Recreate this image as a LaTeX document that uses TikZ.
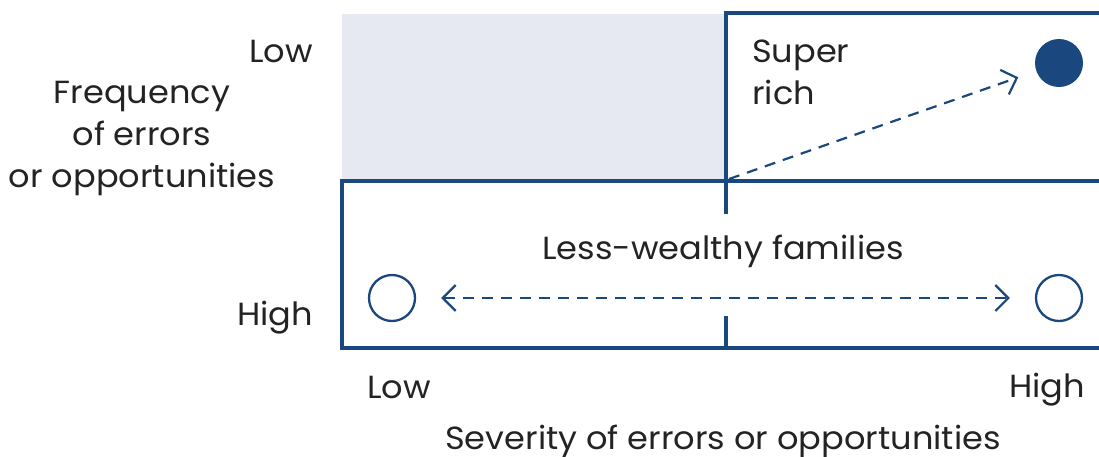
\documentclass[tikz,border=0pt]{standalone}
\usepackage{fontspec}
\setmainfont{Poppins}[FakeStretch=1.05]
\usetikzlibrary{arrows.meta}
\definecolor{navy}{RGB}{26,72,126}
\definecolor{paleblue}{RGB}{230,233,242}
\definecolor{ink}{RGB}{35,35,35}
\tikzset{barbtip/.tip={Straight Barb[length=13pt,width=26pt,line width=2.2pt]}}
\begin{document}
\begin{tikzpicture}[x=1pt,y=-1pt,
  lbl/.style={text=ink,font=\fontsize{32}{42}\selectfont,inner sep=0pt},
  frame/.style={draw=navy,line width=4.5pt},
  ring/.style={circle,draw=navy,line width=2.3pt,minimum size=46pt,inner sep=0pt},
  fulldot/.style={circle,fill=navy,minimum size=48pt,inner sep=0pt},
  darr/.style={draw=navy,line width=2.2pt,dash pattern=on 11pt off 8pt}]
\useasboundingbox (0,0) rectangle (1099,456);
\clip (0,0) rectangle (1099,456);
% shaded quadrant
\fill[paleblue] (342,14) rectangle (726,180);
% frames
\draw[frame] (1110,13) -- (726,13) -- (726,214);
\draw[frame] (1110,181) -- (342,181) -- (342,348) -- (1110,348);
\draw[frame] (726,316) -- (726,348);
% dots
\node[fulldot] (rich) at (1059,63) {};
\node[ring] (lowdot) at (392,298) {};
\node[ring] (highdot) at (1059,298) {};
\coordinate (corner) at (729,179);
% arrows
\draw[darr,-{barbtip},shorten >=19pt] (corner) -- (rich);
\draw[darr,{barbtip}-{barbtip},shorten <=25pt,shorten >=25pt] (lowdot) -- (highdot);
% texts
\node[lbl,anchor=base east] (ylow) at (313,62) {Low};
\node[lbl,anchor=base east] (yhigh) at (313,325) {High};
\node[lbl,anchor=base,align=center] (ytitle) at (142,187) {Frequency\\of errors\\or opportunities};
\node[lbl,anchor=base west,align=left] (srich) at (752,104) {Super\\rich};
\node[lbl,anchor=base] (lwf) at (723,259) {Less-wealthy families};
\node[lbl,anchor=base west] (xlow) at (367,398) {Low};
\node[lbl,anchor=base east] (xhigh) at (1085,397) {High};
\node[lbl,anchor=base] (xtitle) at (723,449) {Severity of errors or opportunities};
\end{tikzpicture}
\end{document}
